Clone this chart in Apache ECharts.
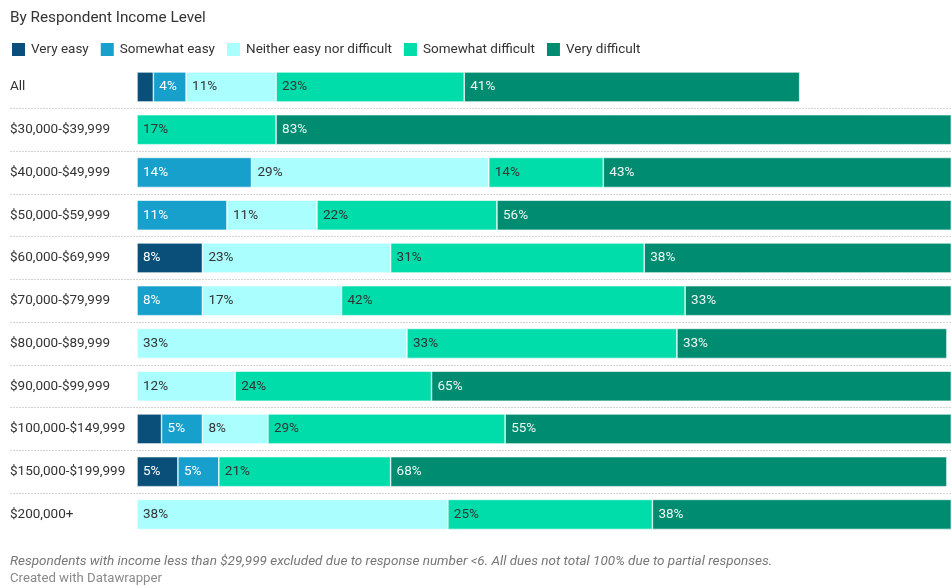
<!DOCTYPE html>
<html>
<head>
<meta charset="utf-8">
<script src="https://cdn.jsdelivr.net/npm/echarts@6/dist/echarts.min.js"></script>
<style>
  html, body { margin: 0; padding: 0; background: #fff; }
  #chart { width: 951px; height: 586px; }
</style>
</head>
<body>
<div id="chart"></div>
<script>
// Income brackets, top to bottom
const categories = [
  'All', '$30,000-$39,999', '$40,000-$49,999', '$50,000-$59,999',
  '$60,000-$69,999', '$70,000-$79,999', '$80,000-$89,999', '$90,000-$99,999',
  '$100,000-$149,999', '$150,000-$199,999', '$200,000+'
];

// Share of respondents (%) per answer; null where nobody answered
const veryEasy          = [2,    null, null, null, 8,    null, null, null, 3,  5,    null];
const somewhatEasy      = [4,    null, 14,   11,   null, 8,    null, null, 5,  5,    null];
const neither           = [11,   null, 29,   11,   23,   17,   33,   12,   8,  null, 38];
const somewhatDifficult = [23,   17,   14,   22,   31,   42,   33,   24,   29, 21,   25];
const veryDifficult     = [41,   83,   43,   56,   38,   33,   33,   65,   55, 68,   38];

const seriesNames = ['Very easy', 'Somewhat easy', 'Neither easy nor difficult', 'Somewhat difficult', 'Very difficult'];
const seriesData = [veryEasy, somewhatEasy, neither, somewhatDifficult, veryDifficult];
const colors = ['#0a4f79', '#17a0cc', '#aafefe', '#00dcaa', '#008c70'];
const labelColors = ['#ffffff', '#ffffff', '#333333', '#333333', '#eef7f4'];

const FONT = 'Roboto, "Noto Sans", sans-serif';

const chart = echarts.init(document.getElementById('chart'), null, { renderer: 'canvas' });

const option = {
  animation: false,
  color: colors,
  textStyle: { fontFamily: FONT },
  title: [
    {
      text: 'By Respondent Income Level',
      left: 10, top: 11, padding: 0,
      textStyle: { fontFamily: FONT, fontSize: 15.3, fontWeight: 'normal', color: '#333' }
    },
    {
      text: 'Respondents with income less than $29,999 excluded due to response number <6. All dues not total 100% due to partial responses.',
      left: 10, top: 555, padding: 0,
      textStyle: { fontFamily: FONT, fontSize: 13.5, fontStyle: 'italic', fontWeight: 'normal', color: '#777' }
    },
    {
      text: 'Created with Datawrapper',
      left: 10, top: 572, padding: 0,
      textStyle: { fontFamily: FONT, fontSize: 13.2, fontWeight: 'normal', color: '#8a8a8a' }
    }
  ],
  legend: {
    left: 10, top: 41, padding: 0,
    icon: 'rect',
    itemWidth: 15, itemHeight: 15, itemGap: 10,
    textStyle: { fontFamily: FONT, fontSize: 13.5, color: '#333' },
    data: seriesNames
  },
  grid: [
    { left: 137, top: 65.6, right: 0, height: 470.2, containLabel: false },
    { left: 10, top: 65.6, right: 0, height: 470.2, containLabel: false }
  ],
  xAxis: [
    // the bar scale runs a little past the right edge of the page
    { type: 'value', gridIndex: 0, min: 0, max: 99.5, show: false },
    { type: 'value', gridIndex: 1, min: 0, max: 100, show: false }
  ],
  yAxis: [
    {
      type: 'category', gridIndex: 0, data: categories, inverse: true,
      axisLine: { show: false }, axisTick: { show: false }, splitLine: { show: false },
      axisLabel: {
        align: 'left', margin: 127,
        fontFamily: FONT, fontSize: 13.5, color: '#333'
      }
    },
    {
      // row separators running the full width
      type: 'category', gridIndex: 1, data: categories, inverse: true,
      axisLine: { show: false }, axisTick: { show: false }, axisLabel: { show: false },
      splitLine: {
        show: true, showMinLine: false, showMaxLine: false,
        lineStyle: { color: '#d4d4d4', width: 1, type: [2, 1] }
      }
    }
  ],
  series: seriesNames.map((name, i) => ({
    name,
    type: 'bar',
    stack: 'total',
    xAxisIndex: 0, yAxisIndex: 0,
    barWidth: 30,
    data: seriesData[i],
    itemStyle: { color: colors[i], borderColor: '#ffffff', borderWidth: 0.6 },
    label: {
      show: true,
      position: 'insideLeft',
      distance: 6,
      fontFamily: FONT, fontSize: 13.5, color: labelColors[i],
      formatter: p => (p.value != null && p.value >= 4) ? p.value + '%' : ''
    },
    emphasis: { disabled: true }
  }))
};

chart.setOption(option);
</script>
</body>
</html>
